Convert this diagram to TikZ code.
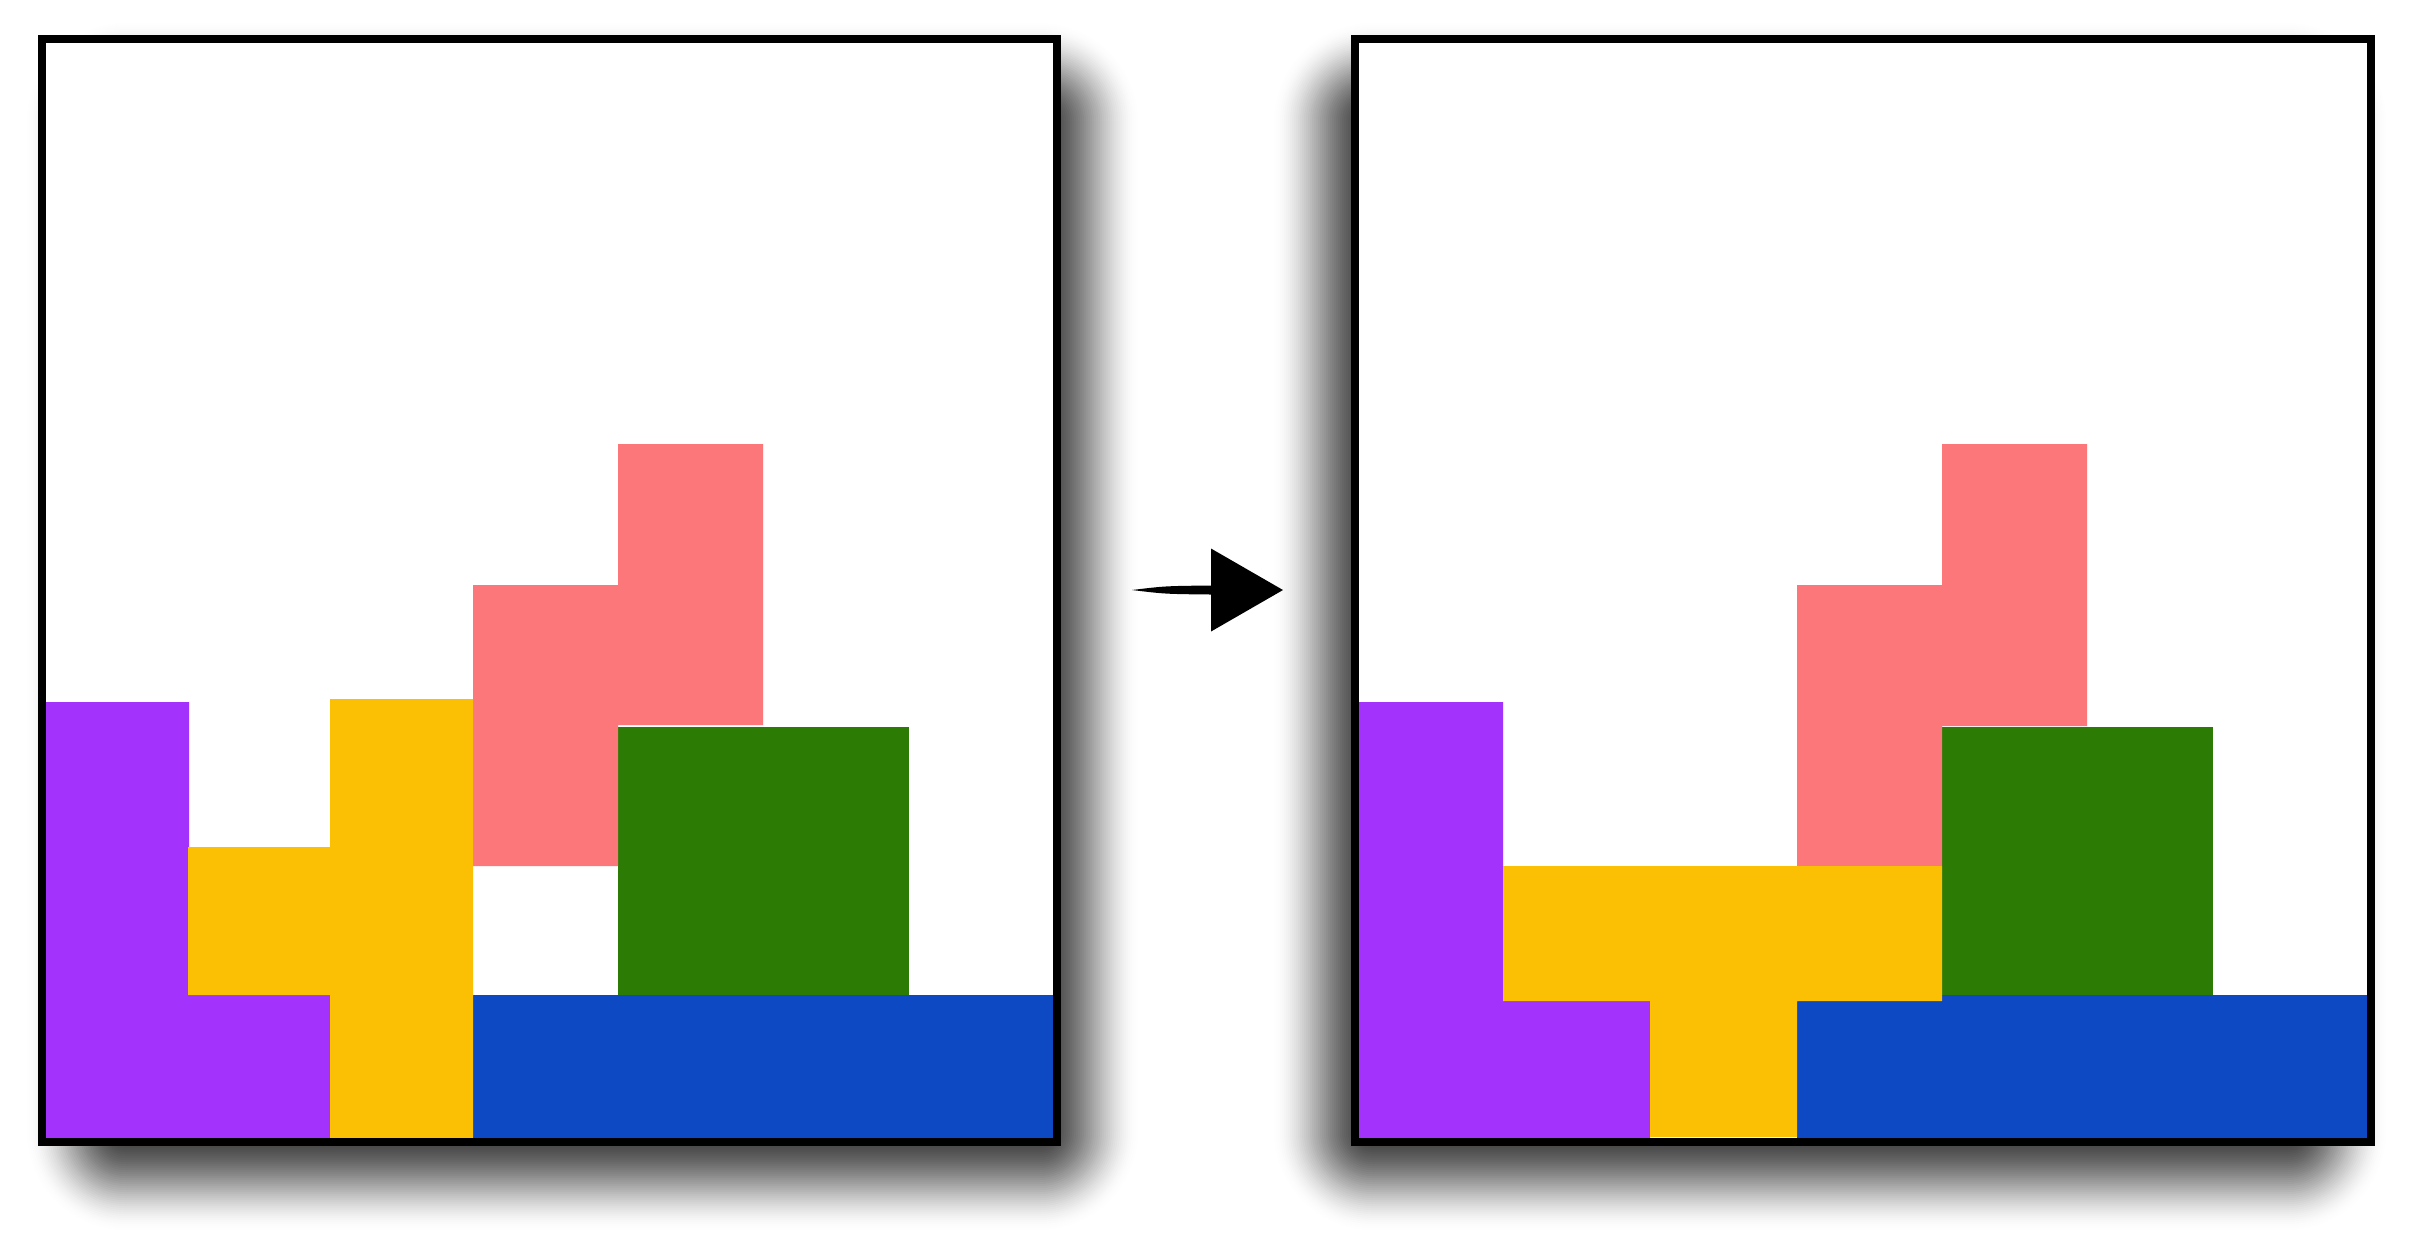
\documentclass[tikz,border=0pt]{standalone}

\definecolor{tetpurple}{RGB}{163,51,252}
\definecolor{tetyellow}{RGB}{251,192,3}
\definecolor{tetsalmon}{RGB}{252,119,122}
\definecolor{tetgreen}{RGB}{43,123,4}
\definecolor{tetblue}{RGB}{14,73,196}

\begin{document}
\begin{tikzpicture}[x=0.01cm, y=-0.01cm,
	board/.style={fill=white, draw=black, line width=0.8mm},
	boardline/.style={draw=black, line width=0.8mm},
	haze/.style={fill=black, fill opacity=#1}]
	\fill[white] (0,0) rectangle (2417,1238);
	\useasboundingbox (0,0) rectangle (2417,1238);

	% soft shadows under both boards
	\foreach \xa/\xb in {25/1140,1272/2388}{
		\foreach \i in {1,...,50}{
			\pgfmathsetmacro\da{0.7*((\i-1)/50)^2*(3-2*(\i-1)/50)}
			\pgfmathsetmacro\db{0.7*(\i/50)^2*(3-2*\i/50)}
			\pgfmathsetmacro\op{1-(1-\db)/(1-\da)}
			\pgfmathsetmacro\r{(102-2*\i)*0.1}
			\fill[haze=\op, rounded corners=\r mm] ({\xa+2*\i-2},{21+2*\i-2}) rectangle ({\xb-2*\i+2},{1232-2*\i+2});
		}
	}

	% before
	\path[board] (42,38.5) rectangle (1057,1141.7);
	\fill[tetblue] (473,995) rectangle (1053,1138);
	\fill[tetgreen] (618,727) rectangle (909,995);
	\fill[tetsalmon] (618,444) -- (763,444) -- (763,725) -- (618,725) -- (618,866) -- (473,866) -- (473,585) -- (618,585) -- cycle;
	\fill[tetpurple] (46,702) -- (189,702) -- (189,994) -- (330,994) -- (330,1138) -- (46,1138) -- cycle;
	\fill[tetyellow] (330,699) -- (473,699) -- (473,1138) -- (330,1138) -- (330,995) -- (188,995) -- (188,847) -- (330,847) -- cycle;
	\draw[boardline] (42,38.5) rectangle (1057,1141.7);

	% after
	\path[board] (1355.3,38.5) rectangle (2370.7,1141.7);
	\fill[tetblue] (1797,995) rectangle (2367,1138);
	\fill[tetgreen] (1942,727) rectangle (2213,995);
	\fill[tetsalmon] (1942,444) -- (2087,444) -- (2087,726) -- (1942,726) -- (1942,866) -- (1797,866) -- (1797,585) -- (1942,585) -- cycle;
	\fill[tetpurple] (1359,702) -- (1503,702) -- (1503,1001) -- (1650,1001) -- (1650,1138) -- (1359,1138) -- cycle;
	\fill[tetyellow] (1503,866) -- (1942,866) -- (1942,1001) -- (1797,1001) -- (1797,1137) -- (1650,1137) -- (1650,1001) -- (1503,1001) -- cycle;
	\draw[boardline] (1355.3,38.5) rectangle (2370.7,1141.7);

	% arrow
	\coordinate (arrowtail) at (1132,590);
	\coordinate (arrowtip) at (1283,590);
	\fill (arrowtail) .. controls (1165,586) .. (1211,585.5) -- (1211,548.5) -- (arrowtip) -- (1211,631.5) -- (1211,594.5) .. controls (1165,594) .. (arrowtail) -- cycle;
\end{tikzpicture}
\end{document}
